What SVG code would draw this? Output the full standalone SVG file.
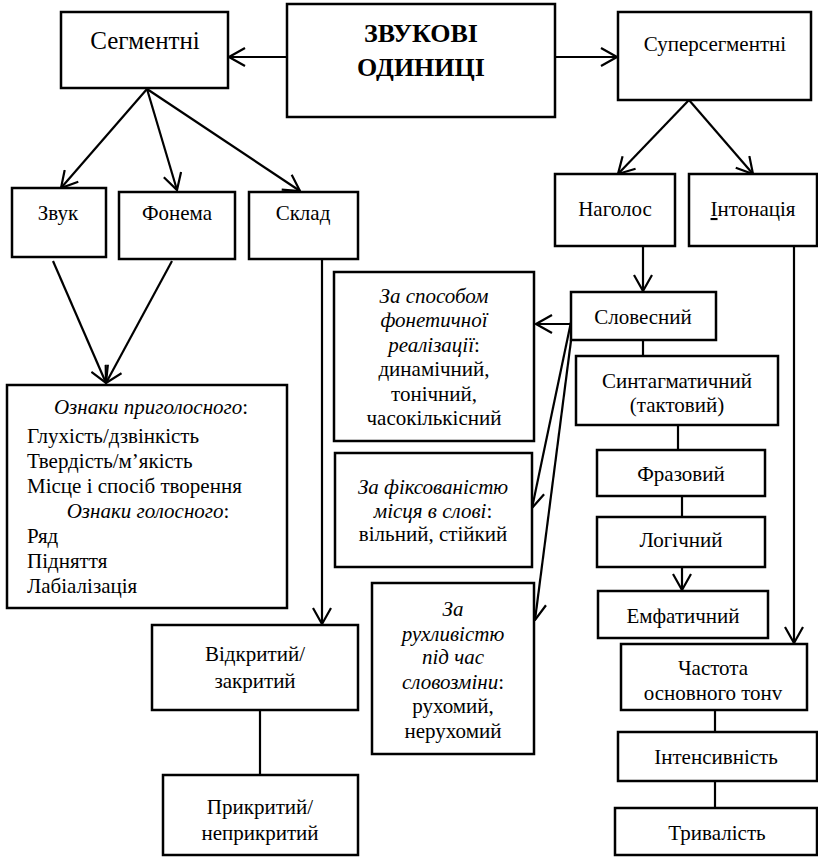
<svg xmlns="http://www.w3.org/2000/svg" width="818" height="863" viewBox="0 0 818 863" font-family="Liberation Serif, Times New Roman, serif">
<style>
rect{fill:#fff;stroke:#000;stroke-width:2.5}
text{font-size:21px;fill:#000;text-anchor:middle}
.l{text-anchor:start}
.i{font-style:italic}
.t{font-size:26px;font-weight:bold}
.s{font-size:25px}
#connectors line{stroke:#000;stroke-width:2.2;fill:none}
.a{marker-end:url(#arr)}
</style>
<defs>
<marker id="arr" markerUnits="userSpaceOnUse" viewBox="0 0 18 20" refX="17" refY="10" markerWidth="18" markerHeight="20" orient="auto">
<path d="M1,1 L17,10 L1,19" fill="none" stroke="#000" stroke-width="2.2"/>
</marker>
</defs>
<rect x="0" y="0" width="818" height="863" style="stroke:none"/>
<g id="connectors">
<line class="a" x1="287" y1="57" x2="229" y2="57"/>
<line class="a" x1="555" y1="57" x2="617" y2="57"/>
<line class="a" x1="147" y1="89" x2="61" y2="188"/>
<line class="a" x1="147" y1="89" x2="177" y2="190"/>
<line class="a" x1="147" y1="89" x2="300" y2="191"/>
<line class="a" x1="53" y1="261" x2="106" y2="383"/>
<line class="a" x1="172" y1="261" x2="106" y2="383"/>
<line class="a" x1="322" y1="259" x2="322" y2="624"/>
<line x1="260" y1="710" x2="260" y2="775"/>
<line class="a" x1="689" y1="100" x2="618" y2="174"/>
<line class="a" x1="689" y1="100" x2="753" y2="174"/>
<line class="a" x1="794" y1="198" x2="794" y2="643"/>
<line class="a" x1="643" y1="246" x2="643" y2="291"/>
<line class="a" x1="571" y1="324" x2="536" y2="324"/>
<line class="a" x1="571" y1="322" x2="532" y2="508"/>
<line class="a" x1="573" y1="325" x2="535" y2="620"/>
<line x1="643" y1="340" x2="643" y2="356"/>
<line x1="678" y1="425" x2="678" y2="450"/>
<line x1="682" y1="496" x2="682" y2="517"/>
<line class="a" x1="682" y1="567" x2="682" y2="590"/>
<line x1="715" y1="710" x2="715" y2="732"/>
<line x1="715" y1="781" x2="715" y2="808"/>
</g>
<g id="title">
<rect x="287" y="4" width="268" height="113"/>
<text class="t" x="421" y="42">ЗВУКОВІ</text>
<text class="t" x="421" y="76">ОДИНИЦІ</text>
</g>
<g id="segm">
<rect x="61" y="12" width="167" height="76"/>
<text class="s" x="145" y="49">Сегментні</text>
</g>
<g id="supersegm">
<rect x="618" y="12" width="193" height="88"/>
<text x="715" y="51">Суперсегментні</text>
</g>
<g id="zvuk">
<rect x="12" y="188" width="94" height="69"/>
<text x="58" y="220">Звук</text>
</g>
<g id="fonema">
<rect x="119" y="192" width="116" height="67"/>
<text x="177" y="220">Фонема</text>
</g>
<g id="sklad">
<rect x="249" y="192" width="109" height="67"/>
<text x="303" y="220">Склад</text>
</g>
<g id="oznaky">
<rect x="7" y="385" width="280" height="223"/>
<text class="i" x="151" y="414">Ознаки приголосного<tspan style="font-style:normal">:</tspan></text>
<text class="l" x="27" y="443">Глухість/дзвінкість</text>
<text class="l" x="27" y="468">Твердість/м’якість</text>
<text class="l" x="27" y="493">Місце і спосіб  творення</text>
<text class="i" x="148" y="518">Ознаки голосного<tspan style="font-style:normal">:</tspan></text>
<text class="l" x="27" y="543">Ряд</text>
<text class="l" x="27" y="568">Підняття</text>
<text class="l" x="27" y="593">Лабіалізація</text>
</g>
<g id="vidkrytyi">
<rect x="152" y="625" width="206" height="85"/>
<text x="255" y="661">Відкритий/</text>
<text x="255" y="688">закритий</text>
</g>
<g id="prykrytyi">
<rect x="163" y="775" width="195" height="80"/>
<text x="260" y="814">Прикритий/</text>
<text x="260" y="840">неприкритий</text>
</g>
<g id="nagolos">
<rect x="555" y="174" width="120" height="72"/>
<text x="615" y="216">Наголос</text>
</g>
<g id="intonatsiya">
<rect x="689" y="174" width="128" height="72"/>
<text x="753" y="216"><tspan style="text-decoration:underline">І</tspan>нтонація</text>
</g>
<g id="slovesnyi">
<rect x="571" y="292" width="145" height="48"/>
<text x="643" y="324">Словесний</text>
</g>
<g id="sposib">
<rect x="334" y="272" width="200" height="169"/>
<text class="i" x="434" y="303">За способом</text>
<text class="i" x="434" y="327">фонетичної</text>
<text class="i" x="434" y="352">реалізації<tspan style="font-style:normal">:</tspan></text>
<text x="434" y="376">динамічний,</text>
<text x="434" y="401">тонічний,</text>
<text x="434" y="425">часокількісний</text>
</g>
<g id="syntagm">
<rect x="576" y="356" width="202" height="69"/>
<text x="677" y="388">Синтагматичний</text>
<text x="677" y="412">(тактовий)</text>
</g>
<g id="fiks">
<rect x="335" y="453" width="197" height="114"/>
<text class="i" x="433" y="494">За фіксованістю</text>
<text class="i" x="433" y="518">місця в слові<tspan style="font-style:normal">:</tspan></text>
<text x="433" y="541">вільний,  стійкий</text>
</g>
<g id="frazovyi">
<rect x="597" y="450" width="168" height="46"/>
<text x="681" y="481">Фразовий</text>
</g>
<g id="logichnyi">
<rect x="597" y="517" width="168" height="50"/>
<text x="681" y="547">Логічний</text>
</g>
<g id="emfatychnyi">
<rect x="598" y="591" width="170" height="47"/>
<text x="683" y="623">Емфатичний</text>
</g>
<g id="rukhlyvist">
<rect x="372" y="583" width="162" height="171"/>
<text class="i" x="453" y="616">За</text>
<text class="i" x="453" y="641">рухливістю</text>
<text class="i" x="453" y="664">під час</text>
<text class="i" x="453" y="689">словозміни<tspan style="font-style:normal">:</tspan></text>
<text x="453" y="713">рухомий,</text>
<text x="453" y="738">нерухомий</text>
</g>
<g id="chastota">
<rect x="621" y="644" width="186" height="66"/>
<text x="713" y="675">Частота</text>
<text x="713" y="700">основного тонv</text>
</g>
<g id="intensyvnist">
<rect x="618" y="732" width="199" height="49"/>
<text x="716" y="764">Інтенсивність</text>
</g>
<g id="tryvalist">
<rect x="615" y="808" width="202" height="47"/>
<text x="717" y="840">Тривалість</text>
</g>
</svg>
